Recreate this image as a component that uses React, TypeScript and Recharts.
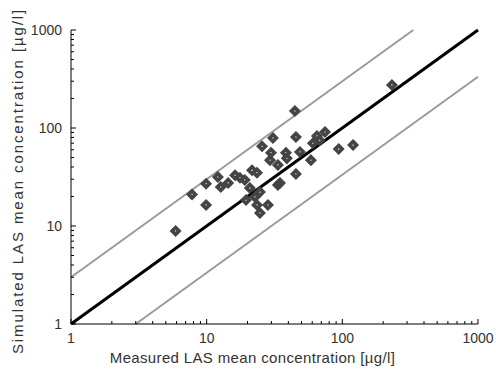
import React from 'react';
import { ScatterChart, Scatter, XAxis, YAxis, ReferenceLine } from 'recharts';

const measured = [5.9, 7.8, 9.9, 9.9, 12.1, 12.7, 14.4, 16.2, 17.6, 19.1, 21.6, 23.5, 20.8, 19.5, 24.7, 22.7, 23.5, 28.3, 24.7, 33.5, 33.5, 29.3, 39, 25.6, 30.8, 45.5, 29.8, 38.4, 48.7, 58.7, 60.7, 65, 74.5, 68, 45.5, 34.7, 44.7, 94, 120, 232];
const simulated = [8.9, 21, 27, 16.4, 31.6, 25, 27.5, 33, 31, 29.5, 37, 35, 24.4, 18.4, 22.2, 19.8, 16.4, 16.4, 13.6, 26.2, 42, 47, 49, 65, 79, 81, 56, 56, 57, 47, 70, 83, 91, 75, 34, 27.5, 149, 61, 67, 275];

const majorTicks = [1, 10, 100, 1000];
const allTicks = [1, 2, 3, 4, 5, 6, 7, 8, 9, 10, 20, 30, 40, 50, 60, 70, 80, 90, 100, 200, 300, 400, 500, 600, 700, 800, 900, 1000];
const oneToOne = [{ x: 1, y: 1 }, { x: 1000, y: 1000 }];
const upperBound = [{ x: 1, y: 3 }, { x: 333.3, y: 1000 }];
const lowerBound = [{ x: 3, y: 1 }, { x: 1000, y: 333.3 }];

const points = measured.map((m, i) => ({ x: m, y: simulated[i] }));

const W = 496;
const H = 373;
const FONT = '"Liberation Sans", Arial, sans-serif';
const TEXT = '#333';
const MAJ = 5;
const MIN = 3;

const isMajor = (v: number) => majorTicks.includes(v);

const Diamond = (props: any) => {
  const { cx, cy } = props;
  if (cx == null || cy == null) return null;
  const r = 3.4;
  return (
    <polygon
      points={`${cx},${cy - r} ${cx + r},${cy} ${cx},${cy + r} ${cx - r},${cy}`}
      fill="none"
      stroke="#444"
      strokeWidth={3.7}
      strokeLinejoin="miter"
    />
  );
};

const Nothing = () => <g />;

const BottomTick = (props: any) => {
  const { x, y, payload } = props;
  const v = payload.value;
  const len = isMajor(v) ? MAJ : MIN;
  return (
    <g>
      <line x1={x} y1={y} x2={x} y2={y - len} stroke="#000" strokeWidth={1} />
      {isMajor(v) && (
        <text x={x} y={y + 19} textAnchor="middle" fontSize={14} fill={TEXT} fontFamily={FONT}>
          {String(v)}
        </text>
      )}
    </g>
  );
};

const LeftTick = (props: any) => {
  const { x, y, payload } = props;
  const v = payload.value;
  const len = isMajor(v) ? MAJ : MIN;
  return (
    <g>
      <line x1={x} y1={y} x2={x + len} y2={y} stroke="#000" strokeWidth={1} />
      {isMajor(v) && (
        <text x={x - 9} y={y + 5} textAnchor="end" fontSize={14} fill={TEXT} fontFamily={FONT}>
          {String(v)}
        </text>
      )}
    </g>
  );
};

const TopTick = (props: any) => {
  const { x, y, payload } = props;
  const len = isMajor(payload.value) ? MAJ : MIN;
  return <line x1={x} y1={y} x2={x} y2={y + len} stroke="#000" strokeWidth={1} />;
};

const RightTick = (props: any) => {
  const { x, y, payload } = props;
  const len = isMajor(payload.value) ? MAJ : MIN;
  return <line x1={x} y1={y} x2={x - len} y2={y} stroke="#000" strokeWidth={1} />;
};

const XTitle = (props: any) => {
  const vb = props.viewBox || { x: 71, width: 407 };
  return (
    <text
      x={vb.x + vb.width / 2 - 22}
      y={363}
      textAnchor="middle"
      fontSize={15}
      letterSpacing={0.35}
      fill={TEXT}
      fontFamily={FONT}
    >
      Measured LAS mean concentration [µg/l]
    </text>
  );
};

const YTitle = () => (
  <text
    x={0}
    y={0}
    transform="translate(23, 181) rotate(-90)"
    textAnchor="middle"
    fontSize={15}
    letterSpacing={1.9}
    fill={TEXT}
    fontFamily={FONT}
  >
    Simulated LAS mean concentration [µg/l]
  </text>
);

export default function App() {
  return (
    <div style={{ position: 'absolute', left: 0, top: 0, width: W, height: H, background: '#fff' }}>
      <ScatterChart width={W} height={H} margin={{ top: 30, right: 18, left: 0, bottom: 21 }}>
        <XAxis
          xAxisId="main"
          dataKey="x"
          type="number"
          scale="log"
          domain={[1, 1000]}
          ticks={allTicks}
          interval={0}
          allowDataOverflow
          tickLine={false}
          tickSize={0}
          tickMargin={0}
          axisLine={{ stroke: '#000', strokeWidth: 1 }}
          tick={<BottomTick />}
          height={28}
          label={<XTitle />}
        />
        <XAxis
          xAxisId="top"
          orientation="top"
          dataKey="x"
          type="number"
          scale="log"
          domain={[1, 1000]}
          ticks={allTicks}
          interval={0}
          allowDataOverflow
          tickLine={false}
          tickSize={0}
          tickMargin={0}
          axisLine={{ stroke: '#000', strokeWidth: 1 }}
          tick={<TopTick />}
          height={0}
        />
        <YAxis
          yAxisId="main"
          dataKey="y"
          type="number"
          scale="log"
          domain={[1, 1000]}
          ticks={allTicks}
          interval={0}
          allowDataOverflow
          tickLine={false}
          tickSize={0}
          tickMargin={0}
          axisLine={{ stroke: '#000', strokeWidth: 1 }}
          tick={<LeftTick />}
          width={71}
          label={<YTitle />}
        />
        <YAxis
          yAxisId="right"
          orientation="right"
          dataKey="y"
          type="number"
          scale="log"
          domain={[1, 1000]}
          ticks={allTicks}
          interval={0}
          allowDataOverflow
          tickLine={false}
          tickSize={0}
          tickMargin={0}
          axisLine={{ stroke: '#000', strokeWidth: 1 }}
          tick={<RightTick />}
          width={0}
        />
        <ReferenceLine xAxisId="main" yAxisId="main" segment={upperBound} stroke="#9a9a9a" strokeWidth={2} ifOverflow="visible" />
        <ReferenceLine xAxisId="main" yAxisId="main" segment={lowerBound} stroke="#9a9a9a" strokeWidth={2} ifOverflow="visible" />
        <ReferenceLine xAxisId="main" yAxisId="main" segment={oneToOne} stroke="#000" strokeWidth={3} ifOverflow="visible" />
        <Scatter xAxisId="top" yAxisId="right" data={points} shape={<Nothing />} isAnimationActive={false} legendType="none" />
        <Scatter xAxisId="main" yAxisId="main" data={points} shape={<Diamond />} isAnimationActive={false} />
      </ScatterChart>
    </div>
  );
}
